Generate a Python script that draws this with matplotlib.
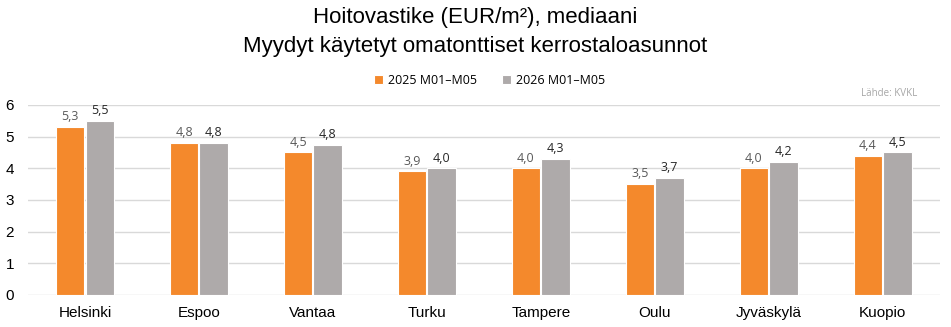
import matplotlib
matplotlib.use("Agg")
import matplotlib.pyplot as plt
import numpy as np

cities = ["Helsinki", "Espoo", "Vantaa", "Turku", "Tampere", "Oulu", "Jyväskylä", "Kuopio"]
v2025 = [5.3, 4.8, 4.5, 3.9, 4.0, 3.5, 4.0, 4.4]
v2026 = [5.5, 4.8, 4.75, 4.0, 4.3, 3.7, 4.2, 4.5]
series_names = ["2025 M01–M05", "2026 M01–M05"]
yticks = [0, 1, 2, 3, 4, 5, 6]

c25 = "#F4892C"
c26 = "#AEAAAA"

fig = plt.figure(figsize=(9.51, 3.27), dpi=100)
ax = fig.add_axes([0.0294, 0.0979, 0.9586, 0.581])

x = np.arange(len(cities))
w = 0.25
b1 = ax.bar(x - w/2 - 0.005, v2025, w, color=c25, edgecolor="white", linewidth=0.8, label=series_names[0], zorder=3)
b2 = ax.bar(x + w/2 + 0.005, v2026, w, color=c26, edgecolor="white", linewidth=0.8, label=series_names[1], zorder=3)

def fmt(v):
    return ("%.1f" % v).replace(".", ",")

for r, v in zip(b1, v2025):
    ax.text(r.get_x() + r.get_width()/2, v + 0.12, fmt(v), ha="center", va="bottom",
            fontsize=9, color="#595959", family="Open Sans")
for r, v in zip(b2, v2026):
    ax.text(r.get_x() + r.get_width()/2, v + 0.12, fmt(v), ha="center", va="bottom",
            fontsize=9, color="#262626", family="Open Sans")

ax.set_xlim(-0.5, len(cities) - 0.5)
ax.set_ylim(0, 6)
ax.set_yticks(yticks)
ax.set_yticklabels([str(t) for t in yticks], fontsize=11, family="Liberation Sans")
ax.set_xticks(x)
ax.set_xticklabels(cities, fontsize=11, family="Liberation Sans")
ax.tick_params(axis="both", length=0, colors="#000000")
ax.tick_params(axis="x", pad=8)
ax.tick_params(axis="y", pad=10)
ax.grid(axis="y", color="#D9D9D9", linewidth=1, zorder=0)
for s in ax.spines.values():
    s.set_visible(False)

fig.text(0.5, 0.945, "Hoitovastike (EUR/m²), mediaani", ha="center", va="center",
         fontsize=16, family="Liberation Sans")
fig.text(0.5, 0.858, "Myydyt käytetyt omatonttiset kerrostaloasunnot", ha="center", va="center",
         fontsize=16, family="Liberation Sans")

leg = fig.legend(handles=[b1, b2], labels=series_names, loc="center", bbox_to_anchor=(0.515, 0.755),
                 ncol=2, frameon=False, handlelength=0.7, handleheight=0.7,
                 columnspacing=2.0, handletextpad=0.4, prop={"family": "Open Sans", "size": 9})

fig.text(0.965, 0.715, "Lähde: KVKL", ha="right", va="center", fontsize=7, color="#A6A6A6",
         family="Open Sans")

fig.savefig("out.png", dpi=100)
